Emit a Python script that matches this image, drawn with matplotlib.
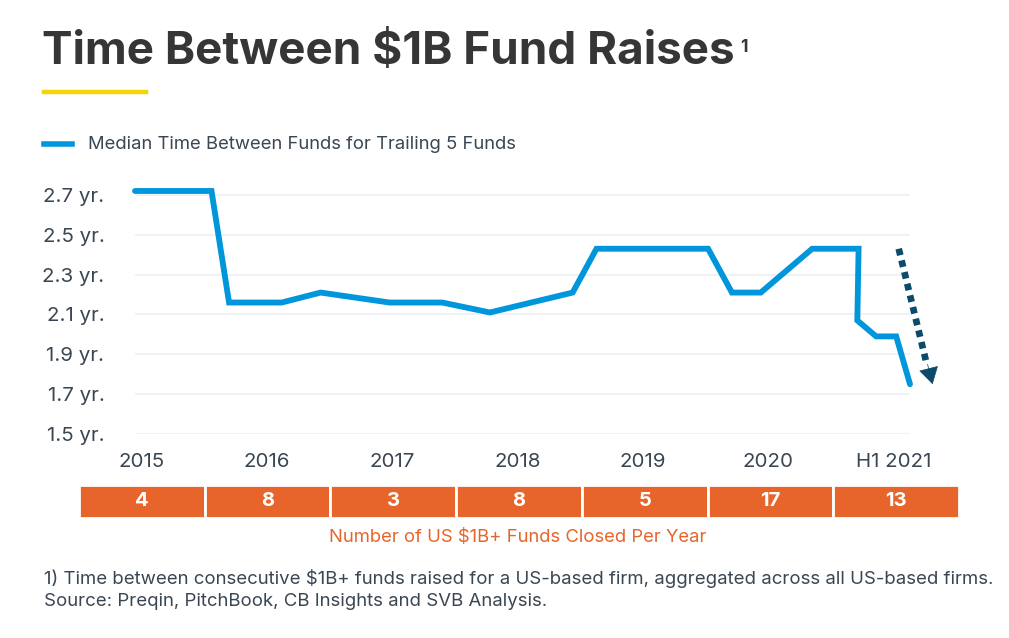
import matplotlib.pyplot as plt
import numpy as np

plt.rcParams['font.family'] = ['Inter', 'DejaVu Sans']

# median time between funds (years), x in fractional years
x_pos = [2014.95, 2015.56, 2015.70, 2016.12, 2016.43, 2016.98, 2017.40, 2017.78,
         2018.44, 2018.63, 2019.52, 2019.71, 2019.94, 2020.35, 2020.72, 2020.71,
         2020.86, 2021.02, 2021.13]
median_yrs = [2.72, 2.72, 2.16, 2.16, 2.21, 2.16, 2.16, 2.11,
              2.21, 2.43, 2.43, 2.21, 2.21, 2.43, 2.43, 2.07,
              1.99, 1.99, 1.75]

years = [2015, 2016, 2017, 2018, 2019, 2020, 2021]
year_labels = ['2015', '2016', '2017', '2018', '2019', '2020', 'H1 2021']
funds_closed = [4, 8, 3, 8, 5, 17, 13]
y_ticks = [1.5, 1.7, 1.9, 2.1, 2.3, 2.5, 2.7]

BLUE = '#0096db'
NAVY = '#0a4a6a'
ORANGE = '#e7652a'
TEXT = '#3a4753'

W, H = 1009, 638
fig = plt.figure(figsize=(W / 100, H / 100), dpi=100)

def fx(px):
    return px / W

def fy(py):
    return 1 - py / H

# title + accent bar
fig.text(fx(42), fy(64), 'Time Between $1B Fund Raises', fontsize=33, fontweight='bold',
         color='#363636', va='baseline', ha='left')
fig.text(fx(740), fy(52), '1', fontsize=12.5, fontweight='bold', color='#363636',
         va='baseline', ha='left')
fig.add_artist(plt.Line2D([fx(44), fx(146)], [fy(91.5), fy(91.5)], color='#f2d60a', lw=3.2))

# legend
fig.add_artist(plt.Line2D([fx(44), fx(72)], [fy(144), fy(144)], color=BLUE, lw=4))
fig.text(fx(88), fy(144), 'Median Time Between Funds for Trailing 5 Funds', fontsize=13.3,
         color=TEXT, va='center', ha='left')

# main line chart
ax = fig.add_axes([fx(135), fy(434), fx(910) - fx(135), fy(185) - fy(434)])
ax.plot(x_pos, median_yrs, color=BLUE, lw=4.2, solid_joinstyle='miter',
        solid_capstyle='round', clip_on=False, zorder=3)
ax.set_xlim(2014.95, 2021.13)
ax.set_ylim(1.5, 2.75)
ax.set_yticks(y_ticks)
ax.set_yticklabels([f'{v:.1f} yr.' for v in y_ticks], fontsize=14.8, color=TEXT)
ax.set_xticks(years)
ax.set_xticklabels(year_labels, fontsize=14.8, color=TEXT)
ax.tick_params(axis='both', length=0)
ax.tick_params(axis='y', pad=22)
ax.tick_params(axis='x', pad=14)
for v in y_ticks:
    ax.axhline(v, color='#eeeff2', lw=1.2, zorder=1)
for s in ax.spines.values():
    s.set_visible(False)

# trend arrow
ax.plot([2021.04, 2021.26], [2.43, 1.86], color=NAVY, lw=4.8, linestyle=(0, (1.0, 0.8)),
        clip_on=False)
ax.annotate('', xy=(2021.31, 1.75), xytext=(2021.27, 1.85),
            arrowprops=dict(arrowstyle='-|>,head_length=1.1,head_width=0.65',
                            color=NAVY, lw=0.5, shrinkA=0, shrinkB=0),
            annotation_clip=False)

# funds closed per year boxes
bx = fig.add_axes([fx(79), fy(518), fx(959) - fx(79), fy(485) - fy(518)])
bx.bar(np.arange(len(funds_closed)), [1] * len(funds_closed), width=1.0, color=ORANGE,
       edgecolor='white', linewidth=2)
for i, n in enumerate(funds_closed):
    bx.text(i, 0.5, str(n), ha='center', va='center', color='white', fontsize=14.5,
            fontweight='bold')
bx.set_xlim(-0.5, len(funds_closed) - 0.5)
bx.set_ylim(0, 1)
bx.axis('off')

fig.text(fx(518), fy(537), 'Number of US $1B+ Funds Closed Per Year', fontsize=13.3,
         color=ORANGE, ha='center', va='center')

# footnotes
fig.text(fx(44), fy(578), '1) Time between consecutive $1B+ funds raised for a US-based firm, '
         'aggregated across all US-based firms.', fontsize=13.4, color=TEXT, va='center')
fig.text(fx(44), fy(601), 'Source: Preqin, PitchBook, CB Insights and SVB Analysis.',
         fontsize=13.4, color=TEXT, va='center')

fig.savefig('out.png', dpi=100, facecolor='white')
